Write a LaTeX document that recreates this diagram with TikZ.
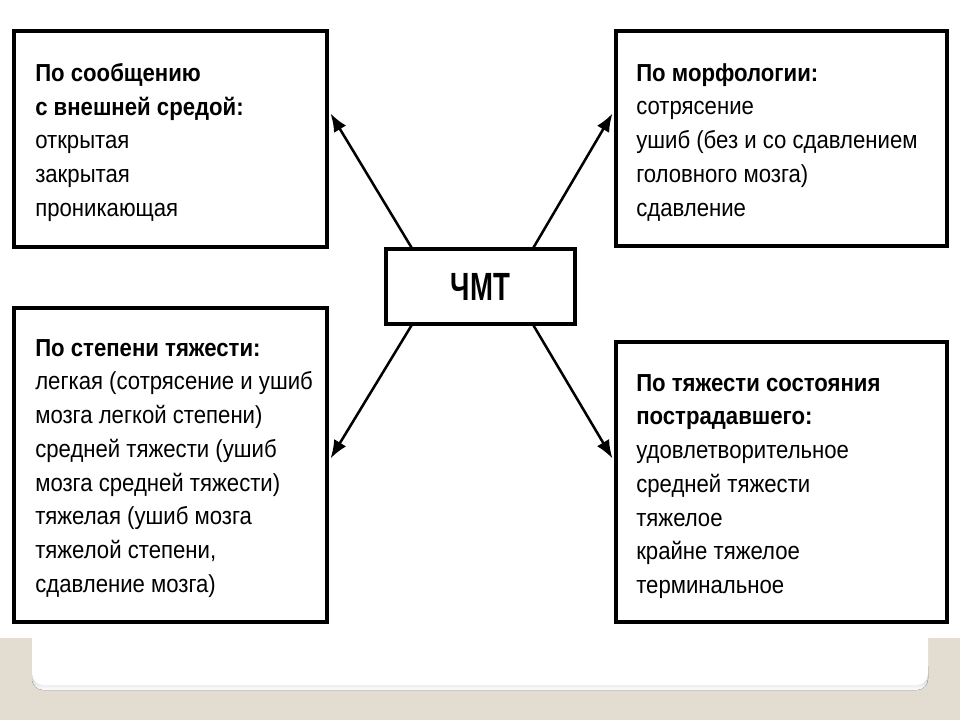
\documentclass[tikz,border=0pt]{standalone}
\usepackage{fontspec}
\setmainfont{Liberation Sans}[FakeStretch=0.9]
\newfontfamily\titlefont{Liberation Sans}[FakeStretch=0.7]
\usetikzlibrary{arrows.meta,fit,calc}
\definecolor{beige}{HTML}{E3DDD1}
\definecolor{shade}{HTML}{A9A69A}

\begin{document}
\begin{tikzpicture}[x=0.025cm,y=-0.025cm]
\tikzstyle{box}=[draw, line width=2.2pt, inner sep=0pt]
\tikzstyle{txt}=[anchor=north west, inner sep=0pt, align=left, font=\fontsize{17.5}{24}\selectfont]
\tikzstyle{arr}=[line width=1.8pt, -{Latex[length=13pt,width=10pt]}]

\useasboundingbox (0,0) rectangle (960,720);
% slide background
\fill[beige] (0,638) rectangle (960,720);
\fill[shade, rounded corners=8pt] (32,655) rectangle (928,690);
\fill[white, rounded corners=8pt] (32,620) rectangle (928,685);

\node[box, fit={(386,249) (575,324)}] (c) {};
\node[font=\titlefont\bfseries\fontsize{28}{30}\selectfont] (ctext) at (c.center) {ЧМТ};
\node[box, fit={(14,31) (327,247)}] (tl) {};
\node[box, fit={(616,31) (947,246)}] (tr) {};
\node[box, fit={(14,308) (327,622)}] (bl) {};
\node[box, fit={(616,342) (947,622)}] (br) {};

\node[txt] (tltext) at (35,63) {\textbf{По сообщению}\\\textbf{с внешней средой:}\\открытая\\закрытая\\проникающая};
\node[txt] (trtext) at (636,63) {\textbf{По морфологии:}\\сотрясение\\ушиб (без и со сдавлением\\головного мозга)\\сдавление};
\node[txt] (bltext) at (35,339) {\textbf{По степени тяжести:}\\легкая (сотрясение и ушиб\\мозга легкой степени)\\средней тяжести (ушиб\\мозга средней тяжести)\\тяжелая (ушиб мозга\\тяжелой степени,\\сдавление мозга)};
\node[txt] (brtext) at (636,374) {\textbf{По тяжести состояния}\\\textbf{пострадавшего:}\\удовлетворительное\\средней тяжести\\тяжелое\\крайне тяжелое\\терминальное};

\draw[arr] ($(c.north west)+(27,0)$) -- ($(tl.north east)+(2,84)$);
\draw[arr] ($(c.north east)+(-43,0)$) -- ($(tr.north west)+(-2,84)$);
\draw[arr] ($(c.south west)+(27,0)$) -- ($(bl.north east)+(2,152)$);
\draw[arr] ($(c.south east)+(-43,0)$) -- ($(br.north west)+(-2,118)$);

\end{tikzpicture}
\end{document}
